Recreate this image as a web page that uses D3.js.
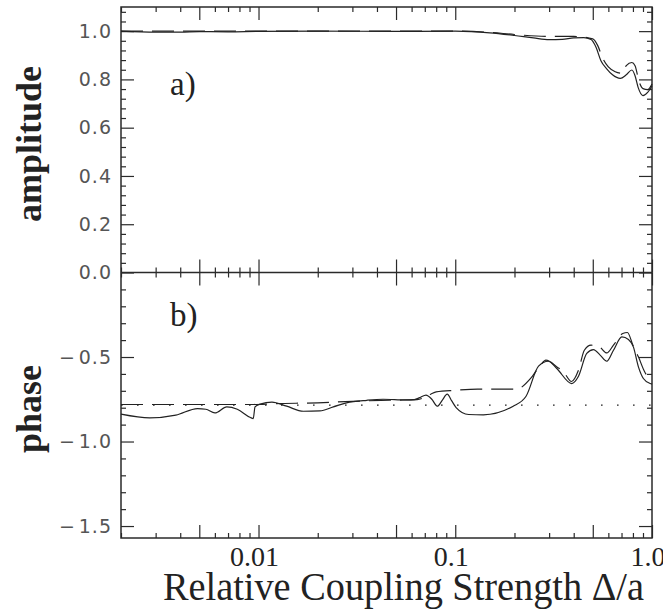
<!DOCTYPE html>
<html>
<head>
<meta charset="utf-8">
<script src="https://cdn.jsdelivr.net/npm/d3@7"></script>
<style>
  html, body { margin: 0; padding: 0; background: #fff; }
  svg { display: block; }
  .serif { font-family: "Liberation Serif", "DejaVu Serif", "Times New Roman", serif; }
  .sans { font-family: "DejaVu Sans", "Liberation Sans", sans-serif; }
</style>
</head>
<body>
<svg id="chart" width="663" height="611"></svg>
<script>
// amplitude panel (a)
const ampX      = [0.002, 0.003, 0.004, 0.005, 0.007, 0.01, 0.02, 0.05, 0.1, 0.15, 0.2, 0.25, 0.3, 0.35, 0.4, 0.45, 0.49, 0.52, 0.55, 0.59, 0.63, 0.69, 0.74, 0.79, 0.82, 0.85, 0.9, 0.95, 1.0];
const ampSolid  = [1.0, 0.996, 0.996, 0.998, 0.997, 0.999, 1.0, 0.999, 1.0, 0.993, 0.982, 0.972, 0.965, 0.966, 0.972, 0.973, 0.965, 0.932, 0.877, 0.843, 0.819, 0.804, 0.819, 0.839, 0.815, 0.767, 0.733, 0.746, 0.774];
const ampDashX  = [0.002, 0.005, 0.01, 0.05, 0.1, 0.15, 0.2, 0.3, 0.4, 0.5, 0.53, 0.56, 0.6, 0.65, 0.7, 0.74, 0.79, 0.82, 0.86, 0.9, 0.95, 1.0];
const ampDashed = [1.0, 1.0, 1.0, 1.0, 1.0, 0.995, 0.986, 0.978, 0.978, 0.968, 0.94, 0.89, 0.852, 0.832, 0.826, 0.857, 0.870, 0.857, 0.79, 0.762, 0.758, 0.781];

// phase panel (b)
const phaseX      = [0.002, 0.0028, 0.0038, 0.0049, 0.0054, 0.006, 0.0069, 0.0078, 0.0091, 0.0094, 0.0096, 0.0102, 0.0117, 0.0139, 0.0169, 0.0205, 0.024, 0.028, 0.0355, 0.043, 0.056, 0.062, 0.066, 0.071, 0.076, 0.081, 0.086, 0.091, 0.096, 0.101, 0.117, 0.139, 0.197, 0.229, 0.265, 0.297, 0.328, 0.391, 0.423, 0.466, 0.504, 0.545, 0.589, 0.637, 0.703, 0.759, 0.804, 0.853, 0.904, 0.978, 1.0];
const phaseSolid  = [-0.838, -0.86, -0.844, -0.805, -0.809, -0.831, -0.795, -0.809, -0.858, -0.864, -0.795, -0.779, -0.767, -0.791, -0.821, -0.819, -0.795, -0.771, -0.756, -0.75, -0.754, -0.752, -0.74, -0.725, -0.75, -0.791, -0.755, -0.72, -0.76, -0.799, -0.84, -0.842, -0.791, -0.732, -0.554, -0.525, -0.568, -0.657, -0.614, -0.479, -0.456, -0.489, -0.525, -0.46, -0.381, -0.396, -0.44, -0.558, -0.627, -0.657, -0.66];
const phaseDashX  = [0.002, 0.0094, 0.012, 0.02, 0.03, 0.042, 0.05, 0.064, 0.075, 0.08, 0.1, 0.13, 0.16, 0.204, 0.244, 0.27, 0.289, 0.33, 0.355, 0.39, 0.423, 0.453, 0.49, 0.54, 0.589, 0.637, 0.71, 0.75, 0.8, 0.853, 0.92, 0.978, 1.0];
const phaseDashed = [-0.781, -0.781, -0.776, -0.771, -0.762, -0.757, -0.755, -0.752, -0.72, -0.706, -0.697, -0.69, -0.69, -0.69, -0.621, -0.55, -0.519, -0.56, -0.588, -0.645, -0.578, -0.46, -0.43, -0.44, -0.476, -0.43, -0.361, -0.355, -0.43, -0.499, -0.59, -0.627, -0.63];
const phaseRef = -0.785;

// axis ticks / labels
const ampMajor   = [0, 0.2, 0.4, 0.6, 0.8, 1.0];
const ampMinor   = [0.04, 0.08, 0.12, 0.16, 0.24, 0.28, 0.32, 0.36, 0.44, 0.48, 0.52, 0.56, 0.64, 0.68, 0.72, 0.76, 0.84, 0.88, 0.92, 0.96, 1.04, 1.08];
const phaseMajor = [-0.5, -1.0, -1.5];
const phaseMinor = [-0.1, -0.2, -0.3, -0.4, -0.6, -0.7, -0.8, -0.9, -1.1, -1.2, -1.3, -1.4];
const xLabelTicks = [0.01, 0.1, 1.0];
const xLabelText  = ["0.01", "0.1", "1.0"];

const frameLeft = 121, frameRight = 652, frameTop = 7, frameMid = 272.5, frameBottom = 538;
const MAJOR = 13, MINOR = 5;
const ink = "#2a2a2a";

const svg = d3.select("#chart");

const x = d3.scaleLog().domain([0.002, 1.0]).range([frameLeft, frameRight]);
const yAmp = d3.scaleLinear().domain([0, 1.1]).range([frameMid, frameTop]);
const yPhase = d3.scaleLinear().domain([-Math.PI / 2, 0]).range([frameBottom, frameMid]);

const xAll = x.ticks();
const lead = (v) => Math.round(v / Math.pow(10, Math.floor(Math.log10(v) + 1e-9)));
const isMajor = (v) => lead(v) === 1 || lead(v) === 5;
const xMajor = xAll.filter(isMajor);
const xMinor = xAll.filter((v) => !isMajor(v));

function ticks(axisFn, scale, values, size, tx, ty) {
  svg.append("g")
    .attr("transform", `translate(${tx},${ty})`)
    .call(axisFn(scale).tickValues(values).tickSize(-size).tickFormat(""))
    .call((g) => g.select(".domain").remove())
    .call((g) => g.selectAll(".tick text").remove())
    .call((g) => g.selectAll(".tick line").attr("stroke", ink).attr("stroke-width", 1.2));
}

// x ticks: top frame, divider (both ways), bottom frame
[[xMajor, MAJOR], [xMinor, MINOR]].forEach(([vals, len]) => {
  ticks(d3.axisTop, x, vals, len, 0, frameTop);
  ticks(d3.axisBottom, x, vals, len, 0, frameMid);
  ticks(d3.axisTop, x, vals, len, 0, frameMid);
  ticks(d3.axisBottom, x, vals, len, 0, frameBottom);
});

// y ticks, both sides
[[ampMajor, MAJOR], [ampMinor, MINOR]].forEach(([vals, len]) => {
  ticks(d3.axisLeft, yAmp, vals, len, frameLeft, 0);
  ticks(d3.axisRight, yAmp, vals, len, frameRight, 0);
});
[[phaseMajor, MAJOR], [phaseMinor, MINOR]].forEach(([vals, len]) => {
  ticks(d3.axisLeft, yPhase, vals, len, frameLeft, 0);
  ticks(d3.axisRight, yPhase, vals, len, frameRight, 0);
});

// y tick labels
function yLabels(scale, values, fmt) {
  svg.append("g")
    .attr("transform", `translate(${frameLeft},0)`)
    .call(d3.axisLeft(scale).tickValues(values).tickSize(0).tickPadding(9).tickFormat(fmt))
    .call((g) => g.select(".domain").remove())
    .call((g) => g.attr("font-family", null).attr("font-size", null))
    .call((g) => g.selectAll("text")
      .attr("class", "sans")
      .style("font-size", "19px")
      .style("letter-spacing", "1px")
      .attr("fill", "#555"));
}
yLabels(yAmp, ampMajor, d3.format(".1f"));
yLabels(yPhase, phaseMajor, (d) => "\u2212\u200A" + Math.abs(d).toFixed(1));

// x tick labels (set slightly left of their ticks, as in the original)
svg.append("g")
  .selectAll("text")
  .data(xLabelTicks)
  .join("text")
  .attr("class", "serif")
  .attr("x", (d) => x(d) - 4)
  .attr("y", 566)
  .attr("text-anchor", "middle")
  .style("font-size", "28px")
  .attr("fill", "#222")
  .text((d, i) => xLabelText[i]);

// frame
const frame = svg.append("g").attr("fill", "none").attr("stroke", ink).attr("stroke-width", 1.5);
frame.append("rect").attr("x", frameLeft).attr("y", frameTop).attr("width", frameRight - frameLeft).attr("height", frameBottom - frameTop);
frame.append("line").attr("x1", frameLeft).attr("x2", frameRight).attr("y1", frameMid).attr("y2", frameMid);

// curves
const plot = svg.append("g").attr("fill", "none").attr("stroke", "#222").attr("stroke-width", 1.2);
function curve(xs, ys, yScale, dash) {
  const line = d3.line()
    .x((d) => x(d[0]))
    .y((d) => yScale(d[1]))
    .curve(d3.curveMonotoneX);
  plot.append("path")
    .attr("d", line(d3.zip(xs, ys)))
    .attr("stroke-dasharray", dash || null);
}

plot.append("line")
  .attr("x1", x(0.002)).attr("x2", x(1.0))
  .attr("y1", yPhase(phaseRef)).attr("y2", yPhase(phaseRef))
  .attr("stroke-dasharray", "1.6,14.4");

curve(ampDashX, ampDashed, yAmp, "22,9");
curve(ampX, ampSolid, yAmp);
curve(phaseDashX, phaseDashed, yPhase, "22,9");
curve(phaseX, phaseSolid, yPhase);

// panel tags and titles
svg.append("text").attr("class", "serif").attr("x", 170).attr("y", 95).style("font-size", "33px").attr("fill", "#222").text("a)");
svg.append("text").attr("class", "serif").attr("x", 170).attr("y", 326).style("font-size", "33px").attr("fill", "#222").text("b)");

svg.append("text")
  .attr("class", "serif")
  .attr("transform", "translate(41,144) rotate(-90)")
  .attr("text-anchor", "middle")
  .style("font-weight", "bold").style("font-size", "36px").attr("fill", "#222")
  .text("amplitude");
svg.append("text")
  .attr("class", "serif")
  .attr("transform", "translate(41,409) rotate(-90)")
  .attr("text-anchor", "middle")
  .style("font-weight", "bold").style("font-size", "36px").attr("fill", "#222")
  .text("phase");

svg.append("text")
  .attr("class", "serif")
  .attr("x", 163).attr("y", 600)
  .style("font-size", "41px").attr("fill", "#222")
  .attr("textLength", 481).attr("lengthAdjust", "spacingAndGlyphs")
  .text("Relative Coupling Strength \u0394/a");
</script>
</body>
</html>
